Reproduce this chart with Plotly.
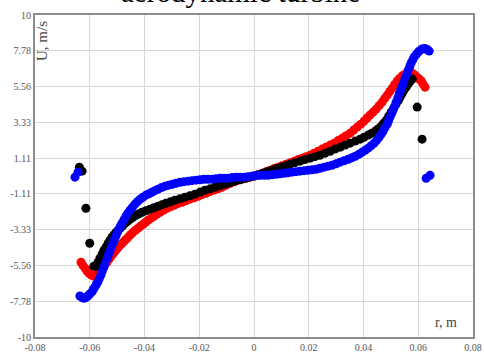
import plotly.graph_objects as go

# Red series
red_x = [-0.0632, -0.0625, -0.0617, -0.0610, -0.0603, -0.0594, -0.0585, -0.0576, -0.0566, -0.0559,
         -0.0552, -0.0545, -0.0537, -0.0530, -0.0522, -0.0515, -0.0508, -0.0500, -0.0493, -0.0486,
         -0.0478, -0.0469, -0.0460, -0.0451, -0.0442, -0.0433, -0.0424, -0.0415, -0.0405, -0.0396,
         -0.0387, -0.0376, -0.0365, -0.0354, -0.0343, -0.0330, -0.0318, -0.0305, -0.0292, -0.0278,
         -0.0263, -0.0249, -0.0234, -0.0219, -0.0204, -0.0190, -0.0175, -0.0161, -0.0146, -0.0132,
         -0.0117, -0.0102, -0.0087, -0.0073, -0.0058, -0.0044, -0.0029, -0.0015, 0.0000, 0.0015,
         0.0030, 0.0044, 0.0059, 0.0073, 0.0088, 0.0102, 0.0117, 0.0132, 0.0147, 0.0161,
         0.0176, 0.0190, 0.0205, 0.0219, 0.0234, 0.0249, 0.0263, 0.0278, 0.0293, 0.0307,
         0.0322, 0.0336, 0.0351, 0.0364, 0.0377, 0.0390, 0.0402, 0.0413, 0.0424, 0.0435,
         0.0446, 0.0457, 0.0468, 0.0477, 0.0487, 0.0496, 0.0505, 0.0514, 0.0523, 0.0532,
         0.0541, 0.0550, 0.0560, 0.0569, 0.0578, 0.0587, 0.0596, 0.0604, 0.0611, 0.0618, 0.0625]
red_y = [-5.36, -5.55, -5.73, -5.90, -6.04, -6.15, -6.23, -6.12, -5.98, -5.83,
         -5.67, -5.52, -5.36, -5.18, -4.99, -4.84, -4.68, -4.52, -4.37, -4.25,
         -4.12, -3.96, -3.81, -3.65, -3.50, -3.37, -3.25, -3.12, -3.00, -2.87,
         -2.75, -2.62, -2.50, -2.37, -2.25, -2.12, -2.00, -1.91, -1.82, -1.72,
         -1.63, -1.54, -1.44, -1.35, -1.26, -1.16, -1.07, -0.97, -0.88, -0.79,
         -0.70, -0.58, -0.45, -0.36, -0.26, -0.20, -0.14, -0.07, -0.01, 0.08,
         0.17, 0.27, 0.36, 0.46, 0.55, 0.64, 0.73, 0.83, 0.92, 1.02,
         1.11, 1.20, 1.29, 1.42, 1.54, 1.67, 1.79, 1.92, 2.04, 2.20,
         2.35, 2.50, 2.66, 2.85, 3.04, 3.22, 3.41, 3.60, 3.79, 3.97,
         4.15, 4.37, 4.59, 4.81, 5.03, 5.25, 5.46, 5.68, 5.90, 6.06,
         6.21, 6.31, 6.39, 6.41, 6.39, 6.28, 6.14, 6.02, 5.90, 5.71, 5.52]

# Black series
black_x = [-0.0638, -0.0628, -0.0614, -0.0600, -0.0585,
           -0.0577, -0.0570, -0.0563, -0.0555, -0.0548, -0.0540, -0.0533, -0.0526, -0.0519, -0.0511,
           -0.0504, -0.0496, -0.0489, -0.0480, -0.0471, -0.0462, -0.0453, -0.0442, -0.0431, -0.0420,
           -0.0409, -0.0395, -0.0380, -0.0366, -0.0351, -0.0336, -0.0322, -0.0305, -0.0289, -0.0270,
           -0.0252, -0.0234, -0.0216, -0.0197, -0.0179, -0.0160, -0.0142, -0.0124, -0.0106, -0.0088,
           -0.0069, -0.0051, -0.0033, -0.0016, 0.0000, 0.0016, 0.0033, 0.0049, 0.0066, 0.0082,
           0.0099, 0.0115, 0.0132, 0.0150, 0.0168, 0.0186, 0.0205, 0.0223, 0.0241, 0.0260,
           0.0278, 0.0296, 0.0315, 0.0333, 0.0351, 0.0370, 0.0388, 0.0402, 0.0417, 0.0430,
           0.0443, 0.0454, 0.0465, 0.0474, 0.0483, 0.0492, 0.0501, 0.0510, 0.0519, 0.0527,
           0.0534, 0.0541, 0.0548, 0.0556, 0.0563, 0.0570, 0.0578, 0.0596, 0.0614]
black_y = [0.55, 0.30, -2.00, -4.18, -5.60,
           -5.61, -5.36, -5.11, -4.86, -4.61, -4.40, -4.18, -4.00, -3.81, -3.65,
           -3.50, -3.37, -3.25, -3.10, -2.94, -2.81, -2.69, -2.56, -2.44, -2.35,
           -2.25, -2.16, -2.06, -1.97, -1.88, -1.78, -1.69, -1.60, -1.50, -1.41,
           -1.32, -1.23, -1.13, -1.00, -0.88, -0.79, -0.70, -0.60, -0.51, -0.42,
           -0.32, -0.23, -0.14, -0.07, 0.00, 0.08, 0.17, 0.27, 0.36, 0.46,
           0.55, 0.64, 0.73, 0.83, 0.92, 1.02, 1.11, 1.20, 1.29, 1.42,
           1.54, 1.67, 1.79, 1.92, 2.04, 2.17, 2.29, 2.41, 2.54, 2.66,
           2.79, 2.94, 3.10, 3.28, 3.47, 3.72, 3.97, 4.22, 4.47, 4.68,
           4.90, 5.12, 5.34, 5.52, 5.71, 5.87, 6.02, 4.28, 2.29]

# Blue series
blue_x = [-0.0654, -0.0643, -0.0636, -0.0628, -0.0621, -0.0614, -0.0607, -0.0600, -0.0592, -0.0587,
          -0.0581, -0.0576, -0.0570, -0.0565, -0.0559, -0.0554, -0.0548, -0.0543, -0.0537, -0.0532,
          -0.0526, -0.0521, -0.0515, -0.0510, -0.0504, -0.0499, -0.0493, -0.0488, -0.0482, -0.0475,
          -0.0468, -0.0461, -0.0453, -0.0444, -0.0435, -0.0426, -0.0416, -0.0406, -0.0395, -0.0384,
          -0.0373, -0.0362, -0.0351, -0.0338, -0.0325, -0.0312, -0.0299, -0.0285, -0.0270, -0.0256,
          -0.0241, -0.0227, -0.0212, -0.0197, -0.0183, -0.0168, -0.0153, -0.0139, -0.0124, -0.0110,
          -0.0095, -0.0080, -0.0065, -0.0051, -0.0036, -0.0022, -0.0007, 0.0007, 0.0022, 0.0037,
          0.0051, 0.0066, 0.0081, 0.0095, 0.0110, 0.0124, 0.0139, 0.0154, 0.0168, 0.0183,
          0.0197, 0.0212, 0.0227, 0.0241, 0.0256, 0.0270, 0.0285, 0.0300, 0.0314, 0.0329,
          0.0344, 0.0357, 0.0370, 0.0383, 0.0395, 0.0406, 0.0417, 0.0428, 0.0439, 0.0448,
          0.0457, 0.0465, 0.0472, 0.0479, 0.0487, 0.0492, 0.0497, 0.0503, 0.0508, 0.0514,
          0.0519, 0.0525, 0.0530, 0.0536, 0.0541, 0.0547, 0.0552, 0.0558, 0.0563, 0.0569,
          0.0574, 0.0580, 0.0585, 0.0593, 0.0600, 0.0607, 0.0614, 0.0622, 0.0629, 0.0634,
          0.0640, 0.0629, 0.0643]
blue_y = [-0.07, 0.24, -7.45, -7.55, -7.60, -7.55, -7.45, -7.33, -7.20, -7.05,
          -6.89, -6.74, -6.58, -6.37, -6.15, -5.90, -5.65, -5.40, -5.15, -4.90,
          -4.65, -4.40, -4.16, -3.94, -3.72, -3.50, -3.28, -3.10, -2.93, -2.71,
          -2.50, -2.31, -2.13, -1.94, -1.75, -1.60, -1.44, -1.32, -1.19, -1.10,
          -1.01, -0.91, -0.82, -0.72, -0.63, -0.57, -0.51, -0.45, -0.39, -0.35,
          -0.32, -0.29, -0.26, -0.23, -0.20, -0.20, -0.20, -0.17, -0.14, -0.14,
          -0.14, -0.10, -0.07, -0.07, -0.07, -0.04, -0.01, 0.02, 0.05, 0.05,
          0.05, 0.08, 0.11, 0.14, 0.17, 0.20, 0.24, 0.27, 0.30, 0.33,
          0.36, 0.39, 0.42, 0.48, 0.55, 0.61, 0.67, 0.76, 0.86, 0.95,
          1.04, 1.13, 1.23, 1.35, 1.48, 1.60, 1.73, 1.88, 2.04, 2.22,
          2.41, 2.60, 2.79, 3.01, 3.23, 3.45, 3.66, 3.88, 4.09, 4.34,
          4.59, 4.84, 5.09, 5.34, 5.58, 5.83, 6.08, 6.33, 6.58, 6.80,
          7.02, 7.21, 7.39, 7.55, 7.70, 7.80, 7.89, 7.92, 7.89, 7.83,
          7.76, -0.14, 0.05]

x_ticks = [-0.08, -0.06, -0.04, -0.02, 0, 0.02, 0.04, 0.06, 0.08]
x_tick_text = ["-0.08", "-0.06", "-0.04", "-0.02", "0", "0.02", "0.04", "0.06", "0.08"]
y_ticks = [-10, -7.78, -5.56, -3.33, -1.11, 1.11, 3.33, 5.56, 7.78, 10]
y_tick_text = ["-10", "-7.78", "-5.56", "-3.33", "-1.11", "1.11", "3.33", "5.56", "7.78", "10"]

fig = go.Figure()
for xs, ys, col in [(red_x, red_y, "#ff0000"), (black_x, black_y, "#000000"), (blue_x, blue_y, "#0000ff")]:
    fig.add_trace(go.Scatter(x=xs, y=ys, mode="markers",
                             marker=dict(color=col, size=9, line=dict(width=0)),
                             showlegend=False, cliponaxis=False))

font_serif = "Liberation Serif, Times New Roman, serif"
fig.update_layout(
    template="none",
    width=484, height=352,
    margin=dict(l=35, r=11, t=15, b=15, autoexpand=False),
    paper_bgcolor="white", plot_bgcolor="white",
    xaxis=dict(range=[-0.08, 0.08], tickvals=x_ticks, ticktext=x_tick_text, automargin=False,
               showgrid=True, gridcolor="#d8d8d8", gridwidth=1, zeroline=False,
               showline=True, linecolor="#8c8c8c", linewidth=2, mirror=True,
               ticks="", tickfont=dict(family=font_serif, size=10, color="#555")),
    yaxis=dict(range=[-10, 10], tickvals=y_ticks, ticktext=y_tick_text, automargin=False,
               showgrid=True, gridcolor="#d8d8d8", gridwidth=1, zeroline=False,
               showline=True, linecolor="#8c8c8c", linewidth=2, mirror=True,
               ticks="", tickfont=dict(family=font_serif, size=10, color="#555")),
    annotations=[
        dict(text="aerodynamic turbine", xref="paper", yref="paper", x=0.47, y=1.0,
             xanchor="center", yanchor="bottom", yshift=5, showarrow=False,
             font=dict(family=font_serif, size=29, color="#000")),
        dict(text="U, m/s", xref="paper", yref="paper", x=0.0, y=1.0,
             xshift=7, yshift=-4, xanchor="center", yanchor="top", textangle=-90,
             showarrow=False, font=dict(family=font_serif, size=15, color="#444")),
        dict(text="r, m", xref="paper", yref="paper", x=1.0, y=0.0,
             xshift=-14, yshift=15, xanchor="right", yanchor="middle",
             showarrow=False, font=dict(family=font_serif, size=14, color="#444")),
    ],
)

fig.write_html("out.html", config={"displayModeBar": False},
               post_script="document.body.style.margin='0';document.body.style.overflow='hidden';")
